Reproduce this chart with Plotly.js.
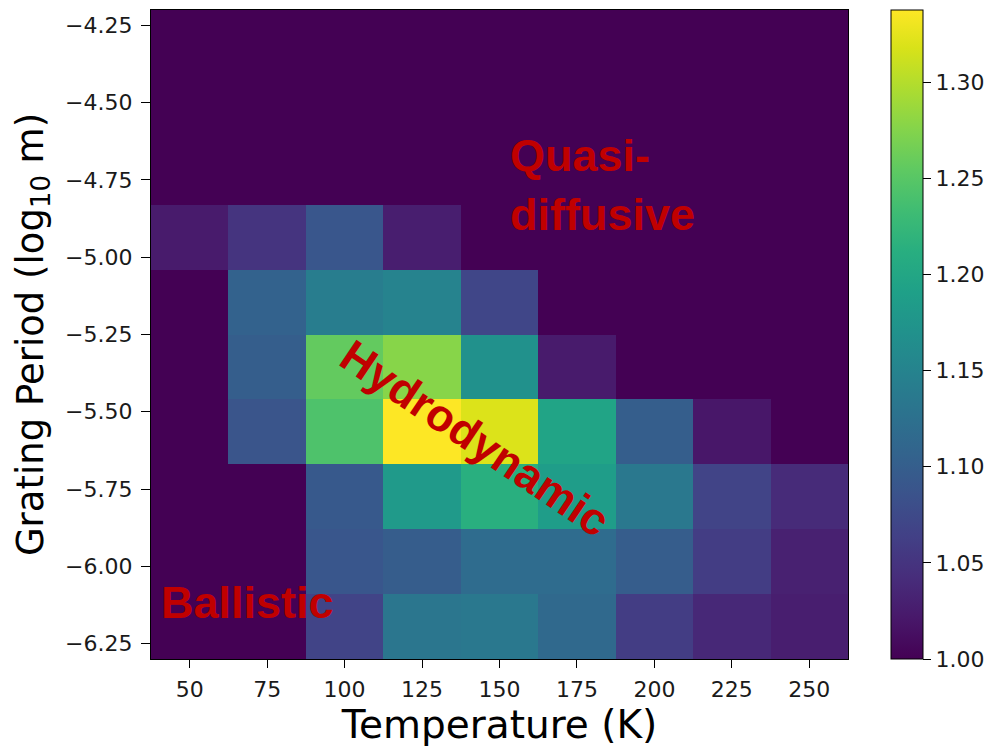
<!DOCTYPE html>
<html>
<head>
<meta charset="utf-8">
<script src="https://cdn.plot.ly/plotly-3.0.1.min.js"></script>
<style>
  html, body { margin: 0; padding: 0; background: #ffffff; }
  #chart { width: 997px; height: 747px; }
</style>
</head>
<body>
<div id="chart"></div>
<script>
// Temperature bins (K) and grating period bins (log10 m)
const temperatures = [50, 75, 100, 125, 150, 175, 200, 225, 250];
const logPeriods = [-6.195, -5.985, -5.775, -5.565, -5.355, -5.145, -4.935, -4.725, -4.515, -4.305];

// Ratio per cell, one row per grating period (bottom to top)
const row_m6_20 = [1.00, 1.00, 1.068, 1.132, 1.135, 1.115, 1.060, 1.037, 1.027];
const row_m5_99 = [1.00, 1.00, 1.090, 1.098, 1.118, 1.118, 1.098, 1.060, 1.030];
const row_m5_78 = [1.00, 1.00, 1.094, 1.182, 1.213, 1.186, 1.135, 1.068, 1.040];
const row_m5_57 = [1.00, 1.088, 1.243, 1.3375, 1.320, 1.196, 1.100, 1.020, 1.00];
const row_m5_36 = [1.00, 1.100, 1.257, 1.277, 1.169, 1.024, 1.00, 1.00, 1.00];
const row_m5_15 = [1.00, 1.105, 1.142, 1.150, 1.070, 1.00, 1.00, 1.00, 1.00];
const row_m4_94 = [1.024, 1.050, 1.090, 1.027, 1.00, 1.00, 1.00, 1.00, 1.00];
const row_m4_73 = [1.00, 1.00, 1.00, 1.00, 1.00, 1.00, 1.00, 1.00, 1.00];
const row_m4_52 = [1.00, 1.00, 1.00, 1.00, 1.00, 1.00, 1.00, 1.00, 1.00];
const row_m4_31 = [1.00, 1.00, 1.00, 1.00, 1.00, 1.00, 1.00, 1.00, 1.00];

const zValues = [row_m6_20, row_m5_99, row_m5_78, row_m5_57, row_m5_36,
                 row_m5_15, row_m4_94, row_m4_73, row_m4_52, row_m4_31];

const yTicks = [-6.25, -6.00, -5.75, -5.50, -5.25, -5.00, -4.75, -4.50, -4.25];
const xTicks = [50, 75, 100, 125, 150, 175, 200, 225, 250];
const cbTicks = [1.00, 1.05, 1.10, 1.15, 1.20, 1.25, 1.30];

// Regime labels
const regimeText = ['Quasi-<br>diffusive', 'Hydrodynamic', 'Ballistic'];
const regimeX = [183.4, 142.3, 68.7];
const regimeY = [-4.766, -5.585, -6.118];
const regimeAngle = [0, 34, 0];

const tickFont = { family: 'DejaVu Sans, sans-serif', size: 22, color: '#1a1a1a' };

const trace = {
  type: 'heatmap',
  x: temperatures,
  y: logPeriods,
  z: zValues,
  colorscale: 'Viridis',
  zmin: 1.0,
  zmax: 1.3375,
  zsmooth: false,
  hoverinfo: 'x+y+z',
  colorbar: {
    x: 1.0617,
    xanchor: 'left',
    y: 0.5,
    yanchor: 'middle',
    len: 1.0,
    lenmode: 'fraction',
    thickness: 32,
    thicknessmode: 'pixels',
    outlinewidth: 1,
    outlinecolor: '#000000',
    tickvals: cbTicks,
    tickformat: '.2f',
    ticks: 'outside',
    ticklen: 8,
    tickcolor: '#000000',
    tickfont: tickFont,
    xpad: 0,
    ypad: 0
  }
};

const annotations = regimeText.map((t, i) => ({
  x: regimeX[i],
  y: regimeY[i],
  xref: 'x',
  yref: 'y',
  text: '<b>' + t + '</b>',
  showarrow: false,
  textangle: regimeAngle[i],
  align: 'left',
  font: { family: 'Liberation Sans, Arial, sans-serif', size: 45, color: '#c00000' }
}));

const layout = {
  width: 997,
  height: 747,
  margin: { l: 151, r: 149, t: 10, b: 88, pad: 0 },
  paper_bgcolor: '#ffffff',
  plot_bgcolor: '#ffffff',
  showlegend: false,
  xaxis: {
    range: [37.5, 262.5],
    tickvals: xTicks,
    ticks: 'outside',
    ticklen: 8,
    tickcolor: '#000000',
    tickfont: tickFont,
    ticklabelstandoff: 2,
    showline: true,
    linecolor: '#000000',
    linewidth: 1.2,
    mirror: true,
    showgrid: false,
    zeroline: false,
    title: { text: 'Temperature (K)', font: { family: 'DejaVu Sans, sans-serif', size: 39, color: '#000000' }, standoff: 4 }
  },
  yaxis: {
    range: [-6.30, -4.20],
    tickvals: yTicks,
    tickformat: '.2f',
    ticks: 'outside',
    ticklen: 9,
    tickcolor: '#000000',
    tickfont: tickFont,
    ticklabelstandoff: 4,
    showline: true,
    linecolor: '#000000',
    linewidth: 1.2,
    mirror: true,
    showgrid: false,
    zeroline: false,
    title: { text: 'Grating Period (log<sub>10</sub> m)', font: { family: 'DejaVu Sans, sans-serif', size: 37, color: '#000000' }, standoff: 10 }
  },
  annotations: annotations
};

Plotly.newPlot('chart', [trace], layout, { displayModeBar: false, staticPlot: true });
</script>
</body>
</html>
